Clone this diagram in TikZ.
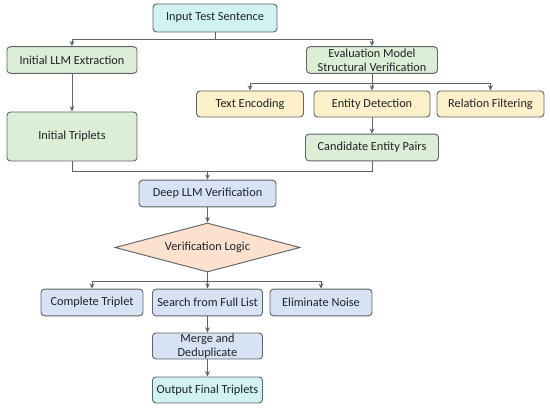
\documentclass[tikz,border=0pt]{standalone}
\usepackage{fontspec}
\setmainfont{Carlito}
\usepackage{xcolor}
\usetikzlibrary{arrows.meta, positioning, shapes.geometric, calc}

\definecolor{cyanfill}{HTML}{D0F2F2}
\definecolor{greenfill}{HTML}{DCEFD6}
\definecolor{yellowfill}{HTML}{FFF0CC}
\definecolor{bluefill}{HTML}{D7E3F4}
\definecolor{peachfill}{HTML}{FCE2CE}
\definecolor{edgegray}{HTML}{5E6464}
\definecolor{txt}{HTML}{1E2228}

\begin{document}
\begin{tikzpicture}[
			box/.style={rectangle, rounded corners=3pt, draw=edgegray, line width=0.8pt,
				minimum height=0.8cm, align=center, inner sep=1pt, text=txt,
				font=\fontsize{10.5}{12}\selectfont},
			cbox/.style={box, fill=cyanfill},
			gbox/.style={box, fill=greenfill},
			ybox/.style={box, fill=yellowfill},
			bbox/.style={box, fill=bluefill},
			arr/.style={-{Stealth[length=1.6mm, width=1.4mm]}, draw=edgegray, line width=0.8pt},
			lin/.style={draw=edgegray, line width=0.8pt}
			]
			\useasboundingbox (0,0) rectangle (16.5,-12.3);
			
			\node[cbox, minimum width=3.72cm, minimum height=0.84cm] (inp) at (6.45,-0.54) {Input Test Sentence};
			
			\begin{scope}[local bounding box=left]
				\node[gbox, minimum width=3.9cm] (ext) at (2.16,-1.8) {Initial LLM Extraction};
				\node[gbox, minimum width=3.9cm, minimum height=1.47cm] (tri) at (2.16,-4.095) {Initial Triplets};
			\end{scope}
			
			\begin{scope}[local bounding box=right]
				\node[gbox, minimum width=3.93cm] (evm) at (11.16,-1.8) {Evaluation Model\\Structural Verification};
				\node[ybox, minimum width=3.21cm, minimum height=0.78cm] (enc) at (7.5,-3.12) {Text Encoding};
				\node[ybox, minimum width=3.48cm, minimum height=0.78cm] (det) at (11.16,-3.12) {Entity Detection};
				\node[ybox, minimum width=3.21cm, minimum height=0.78cm] (rel) at (14.715,-3.12) {Relation Filtering};
				\node[gbox, minimum width=3.99cm] (cand) at (11.16,-4.425) {Candidate Entity Pairs};
			\end{scope}
			
			\node[bbox, minimum width=4.11cm] (deep) at (6.225,-5.805) {Deep LLM Verification};
			\node[diamond, draw=edgegray, line width=0.8pt, fill=peachfill, aspect=3.8, inner sep=0pt, text=txt,
				minimum width=5.55cm, minimum height=1.47cm, font=\fontsize{10.5}{12}\selectfont] (logic) at (6.225,-7.425) {Verification Logic};
			
			\node[bbox, minimum width=3.06cm] (comp) at (2.76,-9.075) {Complete Triplet};
			\node[bbox, minimum width=3.3cm] (srch) at (6.225,-9.075) {Search from Full List};
			\node[bbox, minimum width=3.06cm] (elim) at (9.63,-9.075) {Eliminate Noise};
			\node[bbox, minimum width=3.3cm, minimum height=0.78cm, inner sep=0pt] (merge) at (6.225,-10.38) {Merge and\\Deduplicate};
			\node[cbox, minimum width=3.3cm, minimum height=0.78cm] (out) at (6.225,-11.7) {Output Final Triplets};
			
			% splits and joins
			\coordinate (j1) at (inp.south |- 0,-1.17);
			\coordinate (j2) at (evm.south |- 0,-2.49);
			\coordinate (j3) at (deep.north |- 0,-5.13);
			\coordinate (j4) at (logic.south |- 0,-8.43);
			
			\draw[lin] (inp.south) -- (j1);
			\draw[arr] (j1) -| (ext.north);
			\draw[arr] (j1) -| (evm.north);
			\draw[arr] (ext.south) -- (tri.north);
			
			\draw[lin] (evm.south) -- (j2);
			\draw[arr] (j2) -| (enc.north);
			\draw[arr] (j2) -- (det.north);
			\draw[arr] (j2) -| (rel.north);
			\draw[arr] (det.south) -- (cand.north);
			
			\draw[lin] (tri.south) |- (j3);
			\draw[lin] (cand.south) |- (j3);
			\draw[arr] (j3) -- (deep.north);
			\draw[arr] (deep.south) -- (logic.north);
			
			\draw[lin] (logic.south) -- (j4);
			\draw[arr] (j4) -| (comp.north);
			\draw[arr] (j4) -- (srch.north);
			\draw[arr] (j4) -| (elim.north);
			\draw[arr] (srch.south) -- (merge.north);
			\draw[arr] (merge.south) -- (out.north);
		\end{tikzpicture}
\end{document}
